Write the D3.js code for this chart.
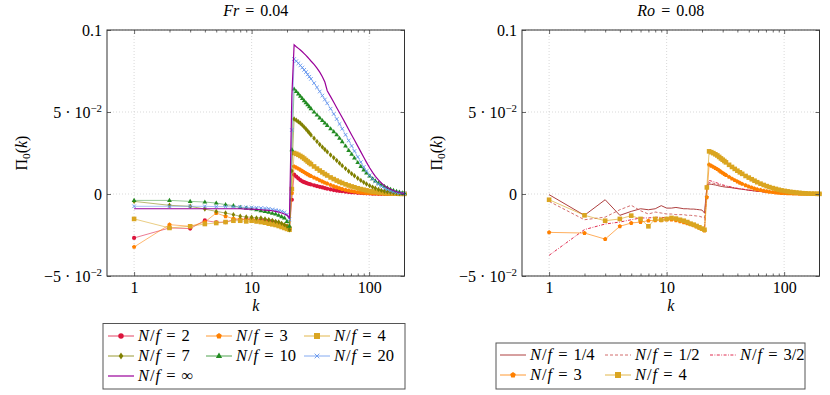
<!DOCTYPE html>
<html>
<head>
<meta charset="utf-8">
<script src="https://cdn.jsdelivr.net/npm/d3@7/dist/d3.min.js"></script>
<style>
body{margin:0;background:#fff}
</style>
</head>
<body>
<div id="chart"></div>
<script>
// wavenumbers: every integer up to 22, then a thinned set along the decay
var kVals = [1,2,3,4,5,6,7,8,9,10,11,12,13,14,15,16,17,18,19,20,21,22,
  23,24,25,26,27,28,29,30,31,32,34,36,38,40,42,44,47,50,53,56,59,63,67,71,75,80,85,90,95,101,107,113,120,127,135,143,152,161,171,181,192,200];

// left panel, Fr = 0.04
var fr2 = [-0.0268,-0.0207,-0.0211,-0.0161,-0.0173,-0.0171,-0.0157,-0.0157,-0.0152,-0.0154,-0.0157,-0.0159,-0.0161,-0.0163,-0.0167,-0.0173,-0.0181,-0.0191,-0.0197,-0.0203,-0.0213,-0.0035,
  0.0118,0.0106,0.0095,0.0085,0.0077,0.0072,0.0068,0.0064,0.0061,0.0058,0.0053,0.0048,0.0044,0.0040,0.0036,0.0032,0.0028,0.0024,0.0021,0.0019,0.0017,0.0014,0.0012,0.0010,
  0.0009,0.0007,0.0006,0.0005,0.0004,0.0003,0.0002,0.0002,0.0001,0.0001,0.0001,0,0,0,0,0,0,0];
var fr3 = [-0.0323,-0.0187,-0.0197,-0.0171,-0.0116,-0.0136,-0.0150,-0.0152,-0.0157,-0.0154,-0.0167,-0.0171,-0.0173,-0.0177,-0.0179,-0.0181,-0.0183,-0.0187,-0.0191,-0.0195,-0.0203,0.0005,
  0.0168,0.0161,0.0154,0.0147,0.0140,0.0133,0.0126,0.0120,0.0114,0.0109,0.0100,0.0092,0.0083,0.0076,0.0069,0.0063,0.0055,0.0047,0.0041,0.0035,0.0030,0.0025,0.0021,0.0017,
  0.0014,0.0011,0.0009,0.0007,0.0006,0.0005,0.0004,0.0003,0.0002,0.0002,0.0001,0.0001,0.0001,0,0,0,0,0];
var fr4 = [-0.0152,-0.0207,-0.0197,-0.0183,-0.0177,-0.0171,-0.0163,-0.0163,-0.0167,-0.0163,-0.0167,-0.0171,-0.0175,-0.0181,-0.0185,-0.0189,-0.0195,-0.0201,-0.0207,-0.0213,-0.0218,0.003,
  0.0250,0.0245,0.0239,0.0232,0.0225,0.0216,0.0207,0.0198,0.0190,0.0182,0.0168,0.0155,0.0143,0.0132,0.0122,0.0113,0.0101,0.0091,0.0082,0.0074,0.0067,0.0059,0.0052,0.0046,
  0.0041,0.0035,0.0030,0.0026,0.0022,0.0018,0.0015,0.0013,0.0010,0.0008,0.0006,0.0005,0.0004,0.0003,0.0002,0.0001,0.0001,0.0001];
var fr7 = [-0.0045,-0.0069,-0.0075,-0.0092,-0.0106,-0.0116,-0.0126,-0.0136,-0.0140,-0.0142,-0.0146,-0.0146,-0.0152,-0.0157,-0.0161,-0.0167,-0.0171,-0.0179,-0.0187,-0.0197,-0.0218,0.014,
  0.0457,0.0450,0.0441,0.0431,0.0420,0.0408,0.0396,0.0384,0.0372,0.0360,0.0340,0.0320,0.0302,0.0286,0.0271,0.0257,0.0238,0.0221,0.0204,0.0188,0.0173,0.0155,0.0139,0.0124,
  0.0111,0.0096,0.0083,0.0071,0.0061,0.0051,0.0042,0.0035,0.0028,0.0022,0.0017,0.0013,0.0010,0.0007,0.0005,0.0003,0.0002,0.0001];
var fr10 = [-0.0039,-0.0039,-0.0045,-0.0049,-0.0055,-0.0065,-0.0071,-0.0082,-0.0086,-0.0090,-0.0096,-0.0102,-0.0106,-0.0112,-0.0118,-0.0122,-0.0130,-0.0138,-0.0146,-0.0167,-0.0197,0.027,
  0.0640,0.0625,0.0610,0.0596,0.0582,0.0568,0.0556,0.0544,0.0532,0.0520,0.0500,0.0481,0.0464,0.0448,0.0433,0.0418,0.0398,0.0380,0.0361,0.0340,0.0319,0.0292,0.0266,0.0242,
  0.0219,0.0192,0.0168,0.0147,0.0128,0.0109,0.0093,0.0080,0.0067,0.0056,0.0046,0.0037,0.0029,0.0022,0.0016,0.0011,0.0007,0.0005];
var fr20 = [-0.0075,-0.0075,-0.0075,-0.0075,-0.0077,-0.0077,-0.0079,-0.0079,-0.0082,-0.0082,-0.0084,-0.0086,-0.0088,-0.0090,-0.0094,-0.0098,-0.0102,-0.0106,-0.0112,-0.0125,-0.0155,0.039,
  0.0823,0.0810,0.0797,0.0784,0.0771,0.0757,0.0743,0.0729,0.0715,0.0702,0.0676,0.0650,0.0625,0.0600,0.0576,0.0553,0.0520,0.0488,0.0457,0.0427,0.0398,0.0361,0.0326,0.0293,
  0.0262,0.0226,0.0194,0.0165,0.0140,0.0114,0.0093,0.0076,0.0060,0.0047,0.0036,0.0027,0.0019,0.0013,0.0009,0.0006,0.0004,0.0003];
var frInf = [-0.0090,-0.0090,-0.0090,-0.0090,-0.0090,-0.0090,-0.0090,-0.0090,-0.0092,-0.0092,-0.0094,-0.0096,-0.0098,-0.0100,-0.0102,-0.0106,-0.0110,-0.0116,-0.0122,-0.0130,-0.0146,0.060,
  0.0910,0.0898,0.0888,0.0878,0.0867,0.0856,0.0845,0.0834,0.0823,0.0811,0.0790,0.0768,0.0743,0.0715,0.0683,0.0630,0.0594,0.0559,0.0526,0.0495,0.0466,0.0429,0.0393,0.0360,
  0.0329,0.0292,0.0257,0.0224,0.0193,0.0160,0.0132,0.0108,0.0086,0.0067,0.0051,0.0039,0.0029,0.0021,0.0014,0.0009,0.0005,0.0003];

// right panel, Ro = 0.08
var ro14 = [-0.0004,-0.0130,-0.0035,-0.0130,-0.0106,-0.0090,-0.0096,-0.0090,-0.0071,-0.0086,-0.0086,-0.0082,-0.0086,-0.0090,-0.0090,-0.0092,-0.0092,-0.0094,-0.0096,-0.0098,-0.0116,0.004,
  0.0061,0.0059,0.0057,0.0055,0.0052,0.0049,0.0047,0.0045,0.0043,0.0042,0.0040,0.0038,0.0035,0.0033,0.0031,0.0029,0.0026,0.0023,0.0021,0.0019,0.0017,0.0015,0.0013,0.0012,
  0.0010,0.0009,0.0007,0.0006,0.0005,0.0004,0.0004,0.0003,0.0002,0.0002,0.0001,0.0001,0.0001,0,0,0,0,0];
var ro12 = [-0.0045,-0.0157,-0.0141,-0.0096,-0.0069,-0.0102,-0.0122,-0.0110,-0.0116,-0.0122,-0.0122,-0.0126,-0.0126,-0.0126,-0.0130,-0.0130,-0.0132,-0.0134,-0.0136,-0.0141,-0.0146,0.003,
  0.0071,0.0068,0.0065,0.0062,0.0059,0.0056,0.0053,0.0050,0.0048,0.0046,0.0042,0.0039,0.0036,0.0033,0.0031,0.0029,0.0026,0.0023,0.0021,0.0019,0.0017,0.0015,0.0013,0.0012,
  0.0010,0.0009,0.0007,0.0006,0.0005,0.0004,0.0004,0.0003,0.0002,0.0002,0.0001,0.0001,0.0001,0,0,0,0,0];
var ro32 = [-0.0374,-0.0217,-0.0183,-0.0171,-0.0157,-0.0146,-0.0146,-0.0142,-0.0142,-0.0146,-0.0146,-0.0150,-0.0154,-0.0159,-0.0167,-0.0173,-0.0181,-0.0191,-0.0199,-0.0207,-0.0218,0.005,
  0.0083,0.0079,0.0075,0.0071,0.0067,0.0063,0.0059,0.0056,0.0053,0.0050,0.0046,0.0042,0.0038,0.0035,0.0032,0.0030,0.0027,0.0024,0.0021,0.0019,0.0017,0.0015,0.0013,0.0012,
  0.0010,0.0009,0.0007,0.0006,0.0005,0.0004,0.0004,0.0003,0.0002,0.0002,0.0001,0.0001,0.0001,0,0,0,0,0];
var ro3 = [-0.0234,-0.0238,-0.0275,-0.0197,-0.0177,-0.0171,-0.0163,-0.0161,-0.0161,-0.0157,-0.0157,-0.0161,-0.0167,-0.0173,-0.0179,-0.0185,-0.0191,-0.0199,-0.0207,-0.0215,-0.0224,-0.002,
  0.0179,0.0172,0.0165,0.0158,0.0151,0.0143,0.0135,0.0128,0.0121,0.0115,0.0104,0.0093,0.0084,0.0076,0.0068,0.0061,0.0053,0.0045,0.0039,0.0033,0.0028,0.0024,0.0020,0.0016,
  0.0013,0.0011,0.0009,0.0007,0.0006,0.0005,0.0004,0.0003,0.0002,0.0002,0.0001,0.0001,0.0001,0,0,0,0,0];
var ro4 = [-0.0035,-0.0130,-0.0163,-0.0152,-0.0132,-0.0152,-0.0197,-0.0152,-0.0157,-0.0152,-0.0146,-0.0150,-0.0157,-0.0163,-0.0171,-0.0181,-0.0187,-0.0195,-0.0203,-0.0211,-0.0218,0.004,
  0.0260,0.0255,0.0249,0.0242,0.0235,0.0226,0.0217,0.0209,0.0201,0.0193,0.0178,0.0165,0.0153,0.0142,0.0132,0.0123,0.0110,0.0100,0.0090,0.0081,0.0072,0.0063,0.0055,0.0048,
  0.0042,0.0036,0.0031,0.0026,0.0022,0.0019,0.0016,0.0013,0.0011,0.0009,0.0007,0.0005,0.0004,0.0003,0.0002,0.0002,0.0001,0.0001];

var xMajor = [1, 10, 100];
var xMinor = [2,3,4,5,6,7,8,9,20,30,40,50,60,70,80,90];
var yMajor = [-0.05, 0, 0.05, 0.1];
var yTickText = {"-0.05": ["\u22125 \u00b7 10", "\u22122"], "0": ["0"], "0.05": ["5 \u00b7 10", "\u22122"], "0.1": ["0.1"]};

var FS = 15.5;
var FONT = "Liberation Serif";

var svg = d3.select("#chart").append("svg")
  .attr("width", 830)
  .attr("height", 395)
  .attr("font-family", FONT)

// writes a piece of math as tspans. segs: {t, i: italic, sup, sub, dx}
function tex(parent, x, y, segs, anchor, fs){
  fs = fs || FS
  var t = parent.append("text")
    .attr("x", x).attr("y", y)
    .attr("text-anchor", anchor || "start")
    .attr("font-family", FONT)
    .attr("font-size", fs)
  var shift = 0
  segs.forEach(function(s){
    var sp = t.append("tspan").text(s.t)
    if(s.i) sp.attr("font-style", "italic")
    var dy = 0
    if(s.sup){ sp.attr("font-size", fs*0.7); dy = -6 }
    if(s.sub){ sp.attr("font-size", fs*0.7); dy = 3 }
    if(dy - shift != 0) sp.attr("dy", dy - shift)
    shift = dy
    if(s.dx) sp.attr("dx", s.dx)
  })
  return t
}

function nfLabel(val){
  var segs = [{t:"N", i:1}, {t:"/", dx:1}, {t:"f", i:1, dx:1}, {t:"=", dx:6}]
  if(val == "inf") segs.push({t:"\u221e", dx:6})
  else segs.push({t:val, dx:6})
  return segs
}

function drawMark(g, type, cx, cy, color, sc){
  sc = sc || 1
  if(type == "circle"){
    g.append("circle").attr("cx", cx).attr("cy", cy).attr("r", 2.1*sc).attr("fill", color)
  }else if(type == "square"){
    var h = 2.3*sc
    g.append("rect").attr("x", cx-h).attr("y", cy-h).attr("width", 2*h).attr("height", 2*h).attr("fill", color)
  }else if(type == "cross"){
    var r = 1.8*sc
    g.append("path")
      .attr("d", "M"+(cx-r)+","+(cy-r)+"L"+(cx+r)+","+(cy+r)+"M"+(cx-r)+","+(cy+r)+"L"+(cx+r)+","+(cy-r))
      .attr("stroke", color).attr("stroke-width", 0.9).attr("fill", "none")
  }else{
    var pts
    if(type == "diamond") pts = [[0,-2.7],[1.8,0],[0,2.7],[-1.8,0]]
    else if(type == "triangle") pts = [[0,-2.6],[2.4,1.5],[-2.4,1.5]]
    else { // pentagon
      pts = []
      for(var i = 0; i < 5; i++){
        var a = -Math.PI/2 + i*2*Math.PI/5
        pts.push([2.3*Math.cos(a), 2.3*Math.sin(a)])
      }
    }
    g.append("path")
      .attr("d", "M" + pts.map(function(p){ return (cx+p[0]*sc) + "," + (cy+p[1]*sc) }).join("L") + "Z")
      .attr("fill", color)
  }
}

function drawSeries(g, x, y, vals, st){
  var pts = kVals.map(function(k, i){ return [x(k), y(vals[i])] })
  g.append("path")
    .attr("d", d3.line()(pts))
    .attr("fill", "none")
    .attr("stroke", st.color)
    .attr("stroke-width", st.lw || 0.8)
    .attr("stroke-opacity", st.op || 1)
    .attr("stroke-dasharray", st.dash || null)
  if(st.mark){
    pts.forEach(function(p){ drawMark(g, st.mark, p[0], p[1], st.color) })
  }
}

function drawPanel(x0, x1, title, series){
  var y0 = 30, y1 = 276
  var g = svg.append("g")
  var x = d3.scaleLog().domain([0.588, 200]).range([x0, x1])
  var y = d3.scaleLinear().domain([-0.05, 0.1]).range([y1, y0])

  // dotted grid at the major ticks
  xMajor.forEach(function(v){
    g.append("line").attr("x1", x(v)).attr("x2", x(v)).attr("y1", y0).attr("y2", y1)
      .attr("stroke", "#c8c8c8").attr("stroke-width", 0.7).attr("stroke-dasharray", "1,2")
  })
  yMajor.forEach(function(v){
    g.append("line").attr("x1", x0).attr("x2", x1).attr("y1", y(v)).attr("y2", y(v))
      .attr("stroke", "#c8c8c8").attr("stroke-width", 0.7).attr("stroke-dasharray", "1,2")
  })

  series.forEach(function(s){ drawSeries(g, x, y, s.vals, s) })

  // axes, ticks pointing inward
  g.append("g").attr("transform", "translate(0," + y1 + ")")
    .call(d3.axisBottom(x).tickValues(xMajor).tickSize(-4).tickPadding(6).tickFormat(d3.format("d")))
  g.append("g").attr("transform", "translate(0," + y1 + ")")
    .call(d3.axisBottom(x).tickValues(xMinor).tickSize(-2.5).tickFormat(""))
  g.append("g").attr("transform", "translate(0," + y0 + ")")
    .call(d3.axisTop(x).tickValues(xMajor).tickSize(-4).tickFormat(""))
  g.append("g").attr("transform", "translate(0," + y0 + ")")
    .call(d3.axisTop(x).tickValues(xMinor).tickSize(-2.5).tickFormat(""))
  var left = g.append("g").attr("transform", "translate(" + x0 + ",0)")
    .call(d3.axisLeft(y).tickValues(yMajor).tickSize(-4).tickPadding(5))
  g.append("g").attr("transform", "translate(" + x1 + ",0)")
    .call(d3.axisRight(y).tickValues(yMajor).tickSize(-4).tickFormat(""))

  g.selectAll(".domain").remove()
  g.selectAll(".tick line").attr("stroke", "#444").attr("stroke-width", 0.8)
  g.selectAll("g").attr("font-family", FONT).attr("font-size", FS + 0.5)
  g.selectAll(".tick text").attr("font-family", FONT).attr("fill", "#000")

  left.selectAll(".tick text").each(function(d){
    var parts = yTickText[String(d)]
    var t = d3.select(this).text("").attr("dy", "0.35em")
    t.append("tspan").text(parts[0])
    if(parts[1]) t.append("tspan").text(parts[1]).attr("font-size", FS*0.7).attr("dy", -6)
  })

  g.append("rect").attr("x", x0).attr("y", y0).attr("width", x1 - x0).attr("height", y1 - y0)
    .attr("fill", "none").attr("stroke", "#333").attr("stroke-width", 1)

  var cx = (x0 + x1) / 2
  tex(g, cx, 16, title, "middle", FS + 0.5)
  tex(g, cx, 311, [{t:"k", i:1}], "middle", FS + 0.5)
  var yl = g.append("g").attr("transform", "translate(" + (x0 - 80) + ",153) rotate(-90)")
  tex(yl, 0, 0, [{t:"\u03a0"}, {t:"0", sub:1}, {t:"("}, {t:"k", i:1}, {t:")"}], "middle", FS + 0.5)
  return g
}

function drawLegend(bx, by, bw, bh, entries){
  var g = svg.append("g")
  g.append("rect").attr("x", bx).attr("y", by).attr("width", bw).attr("height", bh)
    .attr("fill", "#fff").attr("stroke", "#555").attr("stroke-width", 1)
  entries.forEach(function(e){
    g.append("line").attr("x1", e.lx).attr("x2", e.lx + 26).attr("y1", e.ly).attr("y2", e.ly)
      .attr("stroke", e.s.color).attr("stroke-width", e.s.lw || 0.8)
      .attr("stroke-dasharray", e.s.dash || null)
    if(e.s.mark) drawMark(g, e.s.mark, e.lx + 13, e.ly, e.s.color, 1.3)
    tex(g, e.lx + 30, e.ly + 5, nfLabel(e.s.name), "start", 16.5)
  })
}

var leftSeries = [
  {name:"2", vals:fr2, color:"#dc143c", mark:"circle", op:0.7},
  {name:"3", vals:fr3, color:"#ff8000", mark:"pentagon", op:0.7},
  {name:"4", vals:fr4, color:"#daa520", mark:"square", op:0.7},
  {name:"7", vals:fr7, color:"#808000", mark:"diamond", op:0.7},
  {name:"10", vals:fr10, color:"#228b22", mark:"triangle", op:0.6},
  {name:"20", vals:fr20, color:"#6495ed", mark:"cross", op:0.7},
  {name:"inf", vals:frInf, color:"#990099", lw:1.2}
]
var rightSeries = [
  {name:"1/4", vals:ro14, color:"#a52a2a", lw:0.9},
  {name:"1/2", vals:ro12, color:"#cd5c5c", lw:0.9, dash:"3,2"},
  {name:"3/2", vals:ro32, color:"#dc143c", lw:0.9, dash:"3,1.5,0.8,1.5"},
  {name:"3", vals:ro3, color:"#ff8000", mark:"pentagon", op:0.8},
  {name:"4", vals:ro4, color:"#daa520", mark:"square", op:0.8}
]

drawPanel(107, 404.5, [{t:"Fr", i:1}, {t:"=", dx:6}, {t:"0.04", dx:6}], leftSeries)
drawPanel(522, 819.5, [{t:"Ro", i:1}, {t:"=", dx:6}, {t:"0.08", dx:6}], rightSeries)

var colL = [108, 206, 304], rowL = [336, 356, 376]
drawLegend(103, 323.5, 302, 65.5, leftSeries.map(function(s, i){
  return {s:s, lx:colL[i % 3], ly:rowL[Math.floor(i / 3)]}
}))
var colR = [500, 605, 710], rowR = [355, 375]
drawLegend(496, 343, 309, 46, rightSeries.map(function(s, i){
  return {s:s, lx:colR[i % 3], ly:rowR[Math.floor(i / 3)]}
}))
</script>
</body>
</html>
